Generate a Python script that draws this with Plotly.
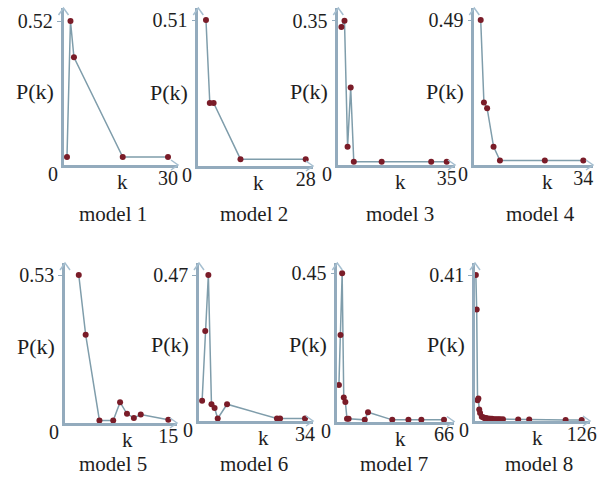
import plotly.graph_objects as go

# ---------------- data ----------------
k1 = [1, 2, 3, 17, 30]
p1 = [0.029, 0.52, 0.389, 0.029, 0.029]

k2 = [2, 3, 4, 11, 28]
p2 = [0.51, 0.22, 0.22, 0.024, 0.024]

k3 = [1, 2, 3, 4, 5, 14, 30, 35]
p3 = [0.335, 0.35, 0.044, 0.188, 0.008, 0.008, 0.008, 0.008]

k4 = [2, 3, 4, 6, 8, 22, 34]
p4 = [0.49, 0.211, 0.192, 0.062, 0.015, 0.015, 0.015]

k5 = [2, 3, 5, 7, 8, 9, 10, 11, 15]
p5 = [0.53, 0.316, 0.009, 0.009, 0.074, 0.033, 0.018, 0.030, 0.012]

k6 = [1, 2, 3, 4, 5, 6, 9, 25, 26, 34]
p6 = [0.065, 0.29, 0.47, 0.054, 0.042, 0.008, 0.054, 0.008, 0.008, 0.008]

k7 = [1, 2, 3, 4, 5, 6, 7, 17, 19, 34, 44, 52, 66]
p7 = [0.111, 0.263, 0.45, 0.073, 0.059, 0.008, 0.008, 0.005, 0.028,
      0.005, 0.005, 0.005, 0.005]

k8 = [1, 2, 3, 4, 5, 6, 8, 10, 11, 12, 13, 14, 15, 17, 18, 20, 22, 24,
      26, 28, 30, 33, 51, 64, 107, 126]
p8 = [0.41, 0.313, 0.058, 0.063, 0.032, 0.0225, 0.012, 0.010, 0.009,
      0.008, 0.008, 0.007, 0.007, 0.006, 0.006, 0.006, 0.005, 0.005,
      0.005, 0.005, 0.005, 0.005, 0.004, 0.004, 0.003, 0.003]

titles = ["model 1", "model 2", "model 3", "model 4",
          "model 5", "model 6", "model 7", "model 8"]
kmax_labels = [30, 28, 35, 34, 15, 34, 66, 126]
pmax_labels = [0.52, 0.51, 0.35, 0.49, 0.53, 0.47, 0.45, 0.41]

series_k = [k1, k2, k3, k4, k5, k6, k7, k8]
series_p = [p1, p2, p3, p4, p5, p6, p7, p8]

# ---------------- layout geometry (pixels) ----------------
W, H = 613, 485
# (axis x, axis bottom y, arrow tip y, arrow tip x, pixel y of pmax, pixel x of kmax)
geom = [
    (63.5, 165, 8, 178, 21, 168),
    (198.3, 166, 8, 313, 20, 305.7),
    (338.3, 165, 8, 455, 20.7, 446.7),
    (474.3, 165, 8, 593, 20, 583.3),
    (65, 423, 263, 177, 275, 168.3),
    (199, 421, 263, 313, 275, 305),
    (337.3, 421.5, 263, 454, 273.3, 444),
    (475, 421, 263, 590, 275, 581.7),
]
title_pos = [(113, 214), (254, 214), (400, 214), (540, 214),
             (113, 464), (254, 464), (394, 464), (539, 464)]
kpos_dx = [59, 60, 62, 73, 62, 64, 63, 62]


def px(x):
    return x / W


def py(y):
    return 1 - y / H


AXC = "#93abbd"
ARC = "#a6bfd0"
LINEC = "#7f9dab"
MARKC = "#7a1c28"
TXT = "#1e1e1e"
FONT = "Liberation Serif"

fig = go.Figure()
annotations = []
shapes = []


def note(text, x, y, size):
    return dict(text=text, x=px(x), y=py(y), xref="paper", yref="paper",
                xanchor="center", yanchor="middle", showarrow=False,
                font=dict(family=FONT, size=size, color=TXT))


for i in range(8):
    ax, bot, tipy, tipx, ypx, kpx = geom[i]
    kmax = kmax_labels[i]
    pmax = pmax_labels[i]
    xr = kmax * (tipx - ax) / (kpx - ax)
    yr = pmax * (bot - tipy) / (bot - ypx)
    n = "" if i == 0 else str(i + 1)
    xa = "x" + n
    ya = "y" + n

    fig.add_trace(go.Scatter(
        x=series_k[i], y=series_p[i], xaxis=xa, yaxis=ya,
        mode="lines+markers",
        line=dict(color=LINEC, width=1.5),
        marker=dict(color=MARKC, size=6),
        showlegend=False, cliponaxis=False, hoverinfo="x+y"))

    fig.layout["xaxis" + n] = dict(
        domain=[px(ax), px(tipx)], range=[0, xr], anchor=ya,
        showline=True, linecolor=AXC, linewidth=2.5,
        showgrid=False, zeroline=False, automargin=False,
        tickvals=[kmax], ticktext=[str(kmax)],
        ticks="", ticklen=0,
        tickfont=dict(family=FONT, size=20, color=TXT), ticklabelstandoff=-7)
    fig.layout["yaxis" + n] = dict(
        domain=[py(bot), py(tipy)], range=[0, yr], anchor=xa,
        showline=True, linecolor=AXC, linewidth=2.5,
        showgrid=False, zeroline=False, automargin=False,
        tickvals=[pmax], ticktext=[f"{pmax:.2f}"],
        ticks="outside", ticklen=4, tickcolor=AXC,
        tickfont=dict(family=FONT, size=20, color=TXT), ticklabelstandoff=0)

    # arrowheads (open chevrons)
    shapes.append(dict(type="path", xref="paper", yref="paper",
                       path=f"M {px(ax-5)},{py(tipy+7)} L {px(ax)},{py(tipy)} L {px(ax+5)},{py(tipy+7)}",
                       line=dict(color=ARC, width=1.5)))
    shapes.append(dict(type="path", xref="paper", yref="paper",
                       path=f"M {px(tipx-7)},{py(bot-5)} L {px(tipx)},{py(bot)} L {px(tipx-7)},{py(bot+5)}",
                       line=dict(color=ARC, width=1.5)))

    # texts
    annotations.append(note("P(k)", ax - 29, bot - 74 if i < 4 else bot - 77, 22))
    annotations.append(note("0", ax - 11, bot + 9, 20))
    annotations.append(note("k", ax + kpos_dx[i], bot + 17, 21))
    tx, ty = title_pos[i]
    annotations.append(note(titles[i], tx, ty, 21))

fig.update_layout(
    width=W, height=H, margin=dict(l=0, r=0, t=0, b=0, pad=0),
    paper_bgcolor="white", plot_bgcolor="rgba(0,0,0,0)",
    annotations=annotations, shapes=shapes,
    font=dict(family=FONT, color=TXT))

fig.write_html("out.html",
               config={"displayModeBar": False},
               post_script="document.body.style.margin='0px';"
                           "document.body.style.overflow='hidden';")
